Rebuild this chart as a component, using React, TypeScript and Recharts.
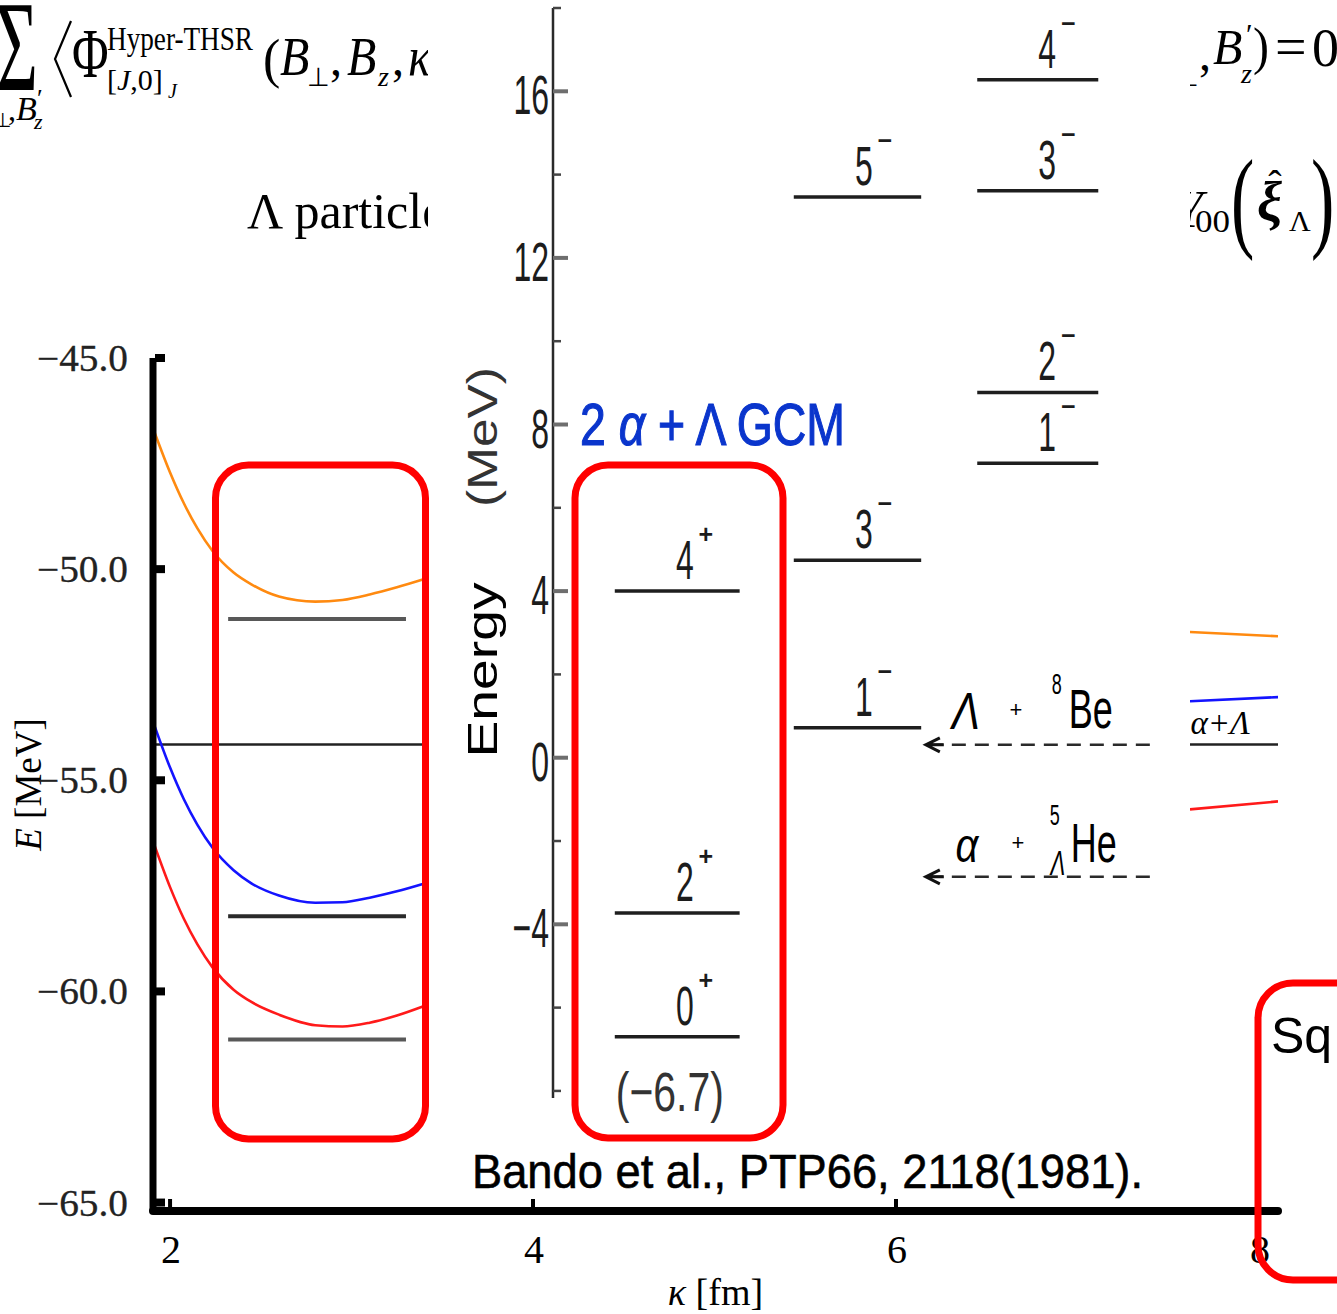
import React from 'react';
import { LineChart, Line, XAxis, YAxis, ReferenceLine, ComposedChart } from 'recharts';

// ---- main panel: E(kappa) curves ----
const kappa = [1.905, 2.0, 2.076, 2.15, 2.234, 2.35, 2.448, 2.6, 2.8, 2.95, 3.1, 3.25, 3.397, 5.5, 7.62, 8.105];
const orangeE = [-46.65, -47.71, -48.44, -49.03, -49.57, -50.08, -50.36, -50.65, -50.77, -50.73, -50.6, -50.43, -50.24, null, -51.49, -51.59];
const blueE = [-53.6, -54.7, -55.45, -56.05, -56.6, -57.13, -57.44, -57.73, -57.9, -57.89, -57.78, -57.63, -57.45, null, -53.13, -53.03];
const redE = [-56.43, -57.53, -58.28, -58.88, -59.43, -59.96, -60.25, -60.55, -60.8, -60.83, -60.74, -60.57, -60.35, null, -55.69, -55.5];
const thresholdE = -54.15;
const gcmLevelE = [-51.18, -58.22, -61.14];
const gcmLevelSpan = [2.32, 3.3];
const xTicks = [2, 4, 6, 8];
const yTicks = [-65, -60, -55, -50, -45];

// ---- level scheme (Bando et al.) ----
const bandoTicks = [-8, -6, -4, -2, 0, 2, 4, 6, 8, 10, 12, 14, 16, 18];
const bandoLabeledTicks = [-4, 0, 4, 8, 12, 16];
const levelSpin = ['4', '2', '0', '5', '3', '1', '4', '3', '2', '1'];
const levelParity = ['+', '+', '+', '−', '−', '−', '−', '−', '−', '−'];
const levelColumn = [0, 0, 0, 1, 1, 1, 2, 2, 2, 2];
const levelEnergy = [4.0, -3.73, -6.7, 13.46, 4.74, 0.72, 16.28, 13.61, 8.77, 7.07];
const columnSpan = [[0.97, 2.93], [3.78, 5.78], [6.66, 8.56]];
const thresholdEnergy = [0.31, -2.86];
const thresholdSpan = [5.9, 9.5];

const mainRows = kappa.map((k, i) => ({ k, orange: orangeE[i], blue: blueE[i], red: redE[i] }));
const levelRows = levelEnergy.map((e, i) => ({
  spin: levelSpin[i],
  parity: levelParity[i],
  x1: columnSpan[levelColumn[i]][0],
  x2: columnSpan[levelColumn[i]][1],
  e,
}));

const SERIF = '"Liberation Serif", "Times New Roman", serif';
const SANS = '"Liberation Sans", Arial, sans-serif';

type TProps = {
  x: number; y: number; size: number; sx?: number; sy?: number; rotate?: number;
  anchor?: 'start' | 'middle' | 'end'; family?: string; italic?: boolean; weight?: string | number;
  fill?: string; len?: number; stroke?: number; children?: React.ReactNode;
};

function T({ x, y, size, sx = 1, sy = 1, rotate, anchor = 'start', family = SERIF, italic, weight, fill = '#000', len, stroke, children }: TProps) {
  let tr = `translate(${x},${y})`;
  if (rotate) tr += ` rotate(${rotate})`;
  if (sx !== 1 || sy !== 1) tr += ` scale(${sx},${sy})`;
  return (
    <text
      transform={tr}
      fontSize={size}
      textAnchor={anchor}
      fontFamily={family}
      fontStyle={italic ? 'italic' : 'normal'}
      fontWeight={weight || 'normal'}
      fill={fill}
      stroke={stroke ? fill : undefined}
      strokeWidth={stroke}
      textLength={len}
      lengthAdjust={len ? 'spacingAndGlyphs' : undefined}
    >
      {children}
    </text>
  );
}

const fmtE = (v: number) => (v < 0 ? '−' : '') + Math.abs(v).toFixed(1);

const XTick = (props: any) => {
  const { x, y, payload } = props;
  return (
    <g>
      <line x1={x} x2={x} y1={y - 3} y2={y - 12} stroke="#000" strokeWidth={4} />
      <T x={x + 1} y={y + 52} size={40} anchor="middle">{String(payload.value)}</T>
    </g>
  );
};

const YTick = (props: any) => {
  const { x, y, payload } = props;
  return (
    <g>
      <line x1={x + 2} x2={x + 12} y1={y} y2={y} stroke="#000" strokeWidth={8} />
      <T x={x - 25} y={y + 13} size={37} anchor="end" len={91} fill="#222" stroke={0.3}>{fmtE(payload.value)}</T>
    </g>
  );
};

const BandoTick = (props: any) => {
  const { x, y, payload } = props;
  const v = payload.value as number;
  const major = bandoLabeledTicks.includes(v);
  return (
    <g>
      <line x1={x} x2={x + (major ? 15 : 8)} y1={y} y2={y} stroke={major ? '#6e6e6e' : '#444'} strokeWidth={major ? 4 : 2.5} />
      {major && (
        <T x={x - 4} y={y + 23} size={32} sy={1.75} anchor="end" family={SANS} fill="#1c1c1c">
          {v < 0 ? '−' + Math.abs(v) : String(v)}
        </T>
      )}
    </g>
  );
};

const levelLabel = (spin: string, parity: string, note?: string) => (props: any) => {
  const vb = props.viewBox || {};
  const cx = vb.x + 70;
  const base = vb.y - 12;
  return (
    <g>
      <T x={cx} y={base} size={32} sy={1.75} anchor="middle" family={SANS} fill="#1c1c1c">{spin}</T>
      <T x={cx + 21} y={base - 36} size={25} anchor="middle" family={SANS} weight="bold" fill="#1c1c1c">{parity}</T>
      {note && (
        <T x={vb.x + 1} y={vb.y + 74} size={32} sy={1.75} family={SANS} fill="#333" len={108}>{note}</T>
      )}
    </g>
  );
};

const arrowHead = (x: number, y: number) => (
  <path d={`M${x + 14},${y - 7} L${x},${y} L${x + 14},${y + 7} M${x},${y} L${x + 18},${y}`} stroke="#111" strokeWidth={3} fill="none" />
);

const lambdaBeLabel = (props: any) => {
  const vb = props.viewBox || {};
  const x0 = vb.x;
  const y0 = vb.y;
  return (
    <g fill="#1c1c1c">
      {arrowHead(x0 - 3, y0)}
      <T x={x0 + 37} y={y0 - 16} size={42} sy={1.25} anchor="middle" family={SANS} italic>Λ</T>
      <T x={x0 + 87} y={y0 - 28} size={22} anchor="middle" family={SANS}>+</T>
      <T x={x0 + 128} y={y0 - 51} size={18} sy={1.6} anchor="middle" family={SANS}>8</T>
      <T x={x0 + 140} y={y0 - 17} size={36} sy={1.55} family={SANS}>Be</T>
    </g>
  );
};

const alphaHeLabel = (props: any) => {
  const vb = props.viewBox || {};
  const x0 = vb.x;
  const y0 = vb.y;
  return (
    <g fill="#1c1c1c">
      {arrowHead(x0 - 3, y0)}
      <T x={x0 + 38} y={y0 - 15} size={40} sy={1.2} anchor="middle" family={SANS} italic>α</T>
      <T x={x0 + 89} y={y0 - 27} size={22} anchor="middle" family={SANS}>+</T>
      <T x={x0 + 126} y={y0 - 52} size={18} sy={1.6} anchor="middle" family={SANS}>5</T>
      <T x={x0 + 129} y={y0 - 2} size={22} sy={1.6} anchor="middle" family={SANS} italic>Λ</T>
      <T x={x0 + 142} y={y0 - 15} size={36} sy={1.55} family={SANS}>He</T>
    </g>
  );
};

const thresholdLabels = [lambdaBeLabel, alphaHeLabel];

function MainChart() {
  return (
    <LineChart width={1337} height={1314} data={mainRows} margin={{ top: 358, right: 59, bottom: 0, left: 0 }}>
      <XAxis
        type="number"
        dataKey="k"
        domain={[1.906, 8.105]}
        ticks={xTicks}
        interval={0}
        allowDataOverflow
        height={103}
        tickSize={0}
        tickMargin={0}
        tickLine={false}
        axisLine={{ stroke: '#000', strokeWidth: 8, strokeLinecap: 'round' }}
        tick={XTick}
        label={(p: any) => {
          const vb = p.viewBox || {};
          return (
            <text x={vb.x + vb.width / 2} y={vb.y + 94} textAnchor="middle" fontFamily={SERIF} fontSize={38} fill="#000">
              <tspan fontStyle="italic">κ</tspan> [fm]
            </text>
          );
        }}
      />
      <YAxis
        type="number"
        domain={[-65.2, -45]}
        ticks={yTicks}
        interval={0}
        allowDataOverflow
        width={153}
        tickSize={0}
        tickMargin={0}
        tickLine={false}
        axisLine={{ stroke: '#000', strokeWidth: 7 }}
        tick={YTick}
        label={(p: any) => {
          const vb = p.viewBox || {};
          const cy = vb.y + vb.height / 2;
          return (
            <text transform={`translate(41,${cy}) rotate(-90)`} textAnchor="middle" fontFamily={SERIF} fontSize={37} fill="#000">
              <tspan fontStyle="italic">E</tspan> [MeV]
            </text>
          );
        }}
      />
      <ReferenceLine
        y={thresholdE}
        stroke="#222"
        strokeWidth={2.5}
        label={(p: any) => {
          const vb = p.viewBox || {};
          return (
            <T x={vb.x + vb.width - 28} y={vb.y - 10} size={33} anchor="end" italic>α+Λ</T>
          );
        }}
      />
      {gcmLevelE.map((e, i) => (
        <ReferenceLine
          key={'g' + i}
          segment={[{ x: gcmLevelSpan[0], y: e }, { x: gcmLevelSpan[1], y: e }]}
          stroke={i === 1 ? '#2a2a2a' : '#585858'}
          strokeWidth={4}
        />
      ))}
      <Line type="monotone" dataKey="orange" stroke="#ff8a10" strokeWidth={2.6} dot={false} isAnimationActive={false} connectNulls={false} />
      <Line type="monotone" dataKey="blue" stroke="#1414ff" strokeWidth={2.6} dot={false} isAnimationActive={false} connectNulls={false} />
      <Line type="monotone" dataKey="red" stroke="#ff1a1a" strokeWidth={2.6} dot={false} isAnimationActive={false} connectNulls={false} />
    </LineChart>
  );
}

function BandoChart() {
  return (
    <ComposedChart width={762} height={1197} data={levelRows} margin={{ top: 8, right: 0, bottom: 99, left: 0 }}>
      <XAxis type="number" dataKey="x1" domain={[0, 10]} hide allowDataOverflow />
      <YAxis
        type="number"
        domain={[-8.17, 18]}
        ticks={bandoTicks}
        interval={0}
        allowDataOverflow
        width={125}
        tickSize={0}
        tickMargin={0}
        tickLine={false}
        axisLine={{ stroke: '#2a2a2a', strokeWidth: 2.5 }}
        tick={BandoTick}
        label={() => (
          <g fill="#1c1c1c">
            <T x={69} y={670} size={42} rotate={-90} anchor="middle" family={SANS} len={175}>Energy</T>
            <T x={69} y={437} size={42} rotate={-90} anchor="middle" family={SANS} len={140} fill="#333">(MeV)</T>
          </g>
        )}
      />
      {levelRows.map((r, i) => (
        <ReferenceLine
          key={'lv' + i}
          segment={[{ x: r.x1, y: r.e }, { x: r.x2, y: r.e }]}
          stroke="#1e1e1e"
          strokeWidth={3.5}
          ifOverflow="visible"
          label={levelLabel(r.spin, r.parity, i === 2 ? `(${fmtE(r.e)})` : undefined)}
        />
      ))}
      {thresholdEnergy.map((e, i) => (
        <ReferenceLine
          key={'th' + i}
          segment={[{ x: thresholdSpan[0], y: e }, { x: thresholdSpan[1], y: e }]}
          stroke="#2a2a2a"
          strokeWidth={2.5}
          strokeDasharray="14 9"
          ifOverflow="visible"
          label={thresholdLabels[i]}
        />
      ))}
    </ComposedChart>
  );
}

function FormulaLayer() {
  return (
    <svg width={1337} height={1314} style={{ position: 'absolute', left: 0, top: 0 }}>
      {/* top-left equation fragment */}
      <T x={-4} y={90} size={72} sy={1.8}>Σ</T>
      <T x={-36} y={120} size={34} italic>B</T>
      <T x={-14} y={108} size={26}>′</T>
      <T x={-6} y={127} size={20}>⊥</T>
      <T x={8} y={120} size={32}>,</T>
      <T x={16} y={120} size={34} italic>B</T>
      <T x={37} y={107} size={26}>′</T>
      <T x={34} y={129} size={22} italic>z</T>
      <path d="M71,21 L55,59 L71,97" stroke="#000" strokeWidth={2.2} fill="none" />
      <T x={72} y={77} size={50} sy={1.4}>Φ</T>
      <T x={107} y={50} size={30} sy={1.1} len={146}>Hyper-THSR</T>
      <text x={107} y={90} fontFamily={SERIF} fontSize={30}>
        [<tspan fontStyle="italic">J</tspan>,0]
      </text>
      <T x={168} y={98} size={20} italic>J</T>
      <T x={263} y={77} size={52} sy={1.05}>(</T>
      <T x={280} y={75} size={48} sy={1.15} italic>B</T>
      <T x={307} y={86} size={26}>⊥</T>
      <T x={330} y={75} size={48}>,</T>
      <T x={347} y={75} size={48} sy={1.15} italic>B</T>
      <T x={378} y={86} size={28} italic>z</T>
      <T x={392} y={75} size={48}>,</T>
      <T x={408} y={75} size={48} sy={1.15} italic>κ</T>

      {/* second line */}
      <T x={247} y={228} size={50}>Λ particle</T>

      {/* top-right equation fragment */}
      <T x={1176} y={86} size={26}>⊥</T>
      <T x={1199} y={70} size={48}>,</T>
      <T x={1213} y={64} size={48} sy={1.05} italic>B</T>
      <T x={1246} y={44} size={30}>′</T>
      <T x={1241} y={83} size={28} italic>z</T>
      <T x={1253} y={64} size={48} sy={1.1}>)</T>
      <T x={1275} y={66} size={56}>=</T>
      <T x={1312} y={66} size={54}>0</T>

      <T x={1174} y={227} size={52} italic>Y</T>
      <T x={1195} y={232} size={32} len={35}>00</T>
      <T x={1231} y={237} size={70} sy={1.6}>(</T>
      <T x={1257} y={221} size={56} italic weight="bold">ξ</T>
      <T x={1275} y={198} size={40} anchor="middle">ˆ</T>
      <T x={1289} y={231} size={30}>Λ</T>
      <T x={1311} y={237} size={70} sy={1.6}>)</T>
    </svg>
  );
}

function TopLayer() {
  return (
    <svg width={1337} height={1314} style={{ position: 'absolute', left: 0, top: 0 }}>
      <text x={580} y={445} fontFamily={SANS} fontSize={60} fill="#0a35cc" stroke="#0a35cc" strokeWidth={1.2} textLength={265} lengthAdjust="spacingAndGlyphs">
        2 <tspan fontStyle="italic">α</tspan> + Λ GCM
      </text>
      <rect x={215.5} y={465} width={210} height={674} rx={33} ry={33} fill="none" stroke="#ff0000" strokeWidth={7} />
      <rect x={575} y={465} width={208} height={673} rx={33} ry={33} fill="none" stroke="#ff0000" strokeWidth={7} />
      <rect x={1258} y={983} width={220} height={297} rx={35} ry={35} fill="none" stroke="#ff0000" strokeWidth={7} />
      <text x={472} y={1188} fontFamily={SANS} fontSize={49} fill="#000" stroke="#000" strokeWidth={0.6} textLength={671} lengthAdjust="spacingAndGlyphs">
        Bando et al., PTP66, 2118(1981).
      </text>
      <text x={1271} y={1053} fontFamily={SANS} fontSize={50} fill="#000">Sq</text>
    </svg>
  );
}

export default function App() {
  return (
    <div style={{ position: 'absolute', left: 0, top: 0, width: 1337, height: 1314, background: '#fff', overflow: 'hidden' }}>
      <div style={{ position: 'absolute', left: 0, top: 0 }}>
        <MainChart />
      </div>
      <FormulaLayer />
      <div style={{ position: 'absolute', left: 428, top: 0, width: 762, height: 1197, background: '#fff' }}>
        <BandoChart />
      </div>
      <TopLayer />
    </div>
  );
}
